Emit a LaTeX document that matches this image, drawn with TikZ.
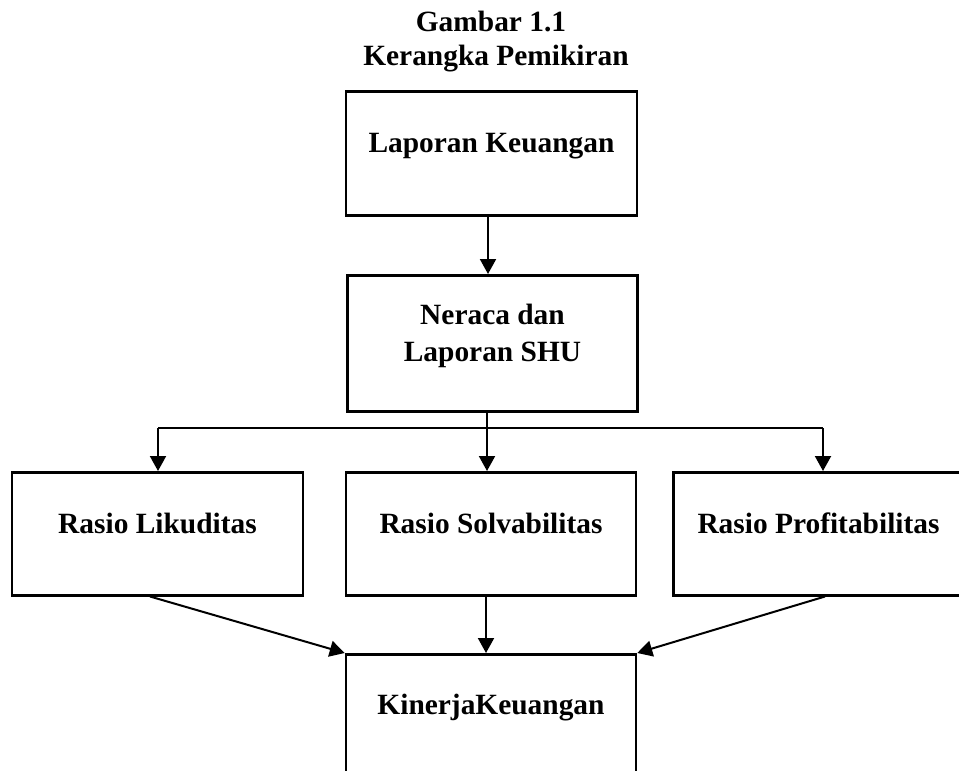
\documentclass[tikz,border=0pt]{standalone}
\usepackage{fontspec}
\setmainfont{Liberation Serif}
\usetikzlibrary{arrows.meta,positioning}

\begin{document}
\begin{tikzpicture}[x=0.5pt,y=-0.5pt,
    font=\fontsize{14.7}{18.5}\selectfont\bfseries,
    kotak/.style={draw,line width=1.25pt,anchor=north,inner sep=0pt,
      minimum width=145pt,align=center},
    panah/.style={-{Triangle[width=8pt,length=7.5pt]},line width=1pt},
    judul/.style={anchor=base,inner sep=0pt}]
    \useasboundingbox (0,0) rectangle (959,771);
    \clip (0,0) rectangle (959,771);
            % judul
            \node[judul] (t1) at (491,32) {Gambar 1.1};
            \node[judul] (t2) at (496,65) {Kerangka Pemikiran};
            % kotak
            \node[kotak,minimum width=145.5pt,text height=30.5pt,text
            depth=31.5pt] (lapkeu) at (491.5,90) {Laporan Keuangan};
            \node[kotak,text height=43pt,text depth=25pt] (neraca)
            at (492.5,274) {Neraca dan\\Laporan SHU};
            \node[kotak,minimum width=145.5pt,text height=30.5pt,text
            depth=31pt] (likuid) at (157.5,471) {Rasio Likuditas};
            \node[kotak,text height=30.5pt,text depth=31pt] (solva) at
            (491,471) {Rasio Solvabilitas};
            \node[kotak,text height=30.5pt,text depth=31pt] (profit) at
            (818.5,471) {Rasio Profitabilitas};
            \node[kotak,text height=30pt,text depth=33pt] (kinerja) at
            (491,653) {KinerjaKeuangan};
            % percabangan
            \coordinate (split) at (487,428);
            \coordinate (bl) at (158,428);
            \coordinate (br) at (823,428);
            \draw[panah] (lapkeu.south -| 488,0) -- (neraca.north -| 488,0);
            \draw[line width=1pt] (neraca.south -| split) -- (split);
            \draw[line width=0.6pt] (bl) -- (br);
            \draw[panah] (bl) -- (bl |- likuid.north);
            \draw[panah] (split) -- (split |- solva.north);
            \draw[panah] (br) -- (br |- profit.north);
            %\draw[panah] (likuid) -- (kinerja);
            \draw[panah] ([xshift=-3.75pt]likuid.south) -- (kinerja.north west);
            \draw[panah] ([xshift=-2.5pt]solva.south) -- ([xshift=-2.5pt]kinerja.north);
            \draw[panah] ([xshift=3.25pt]profit.south) -- (kinerja.north east);
        \end{tikzpicture}
\end{document}
